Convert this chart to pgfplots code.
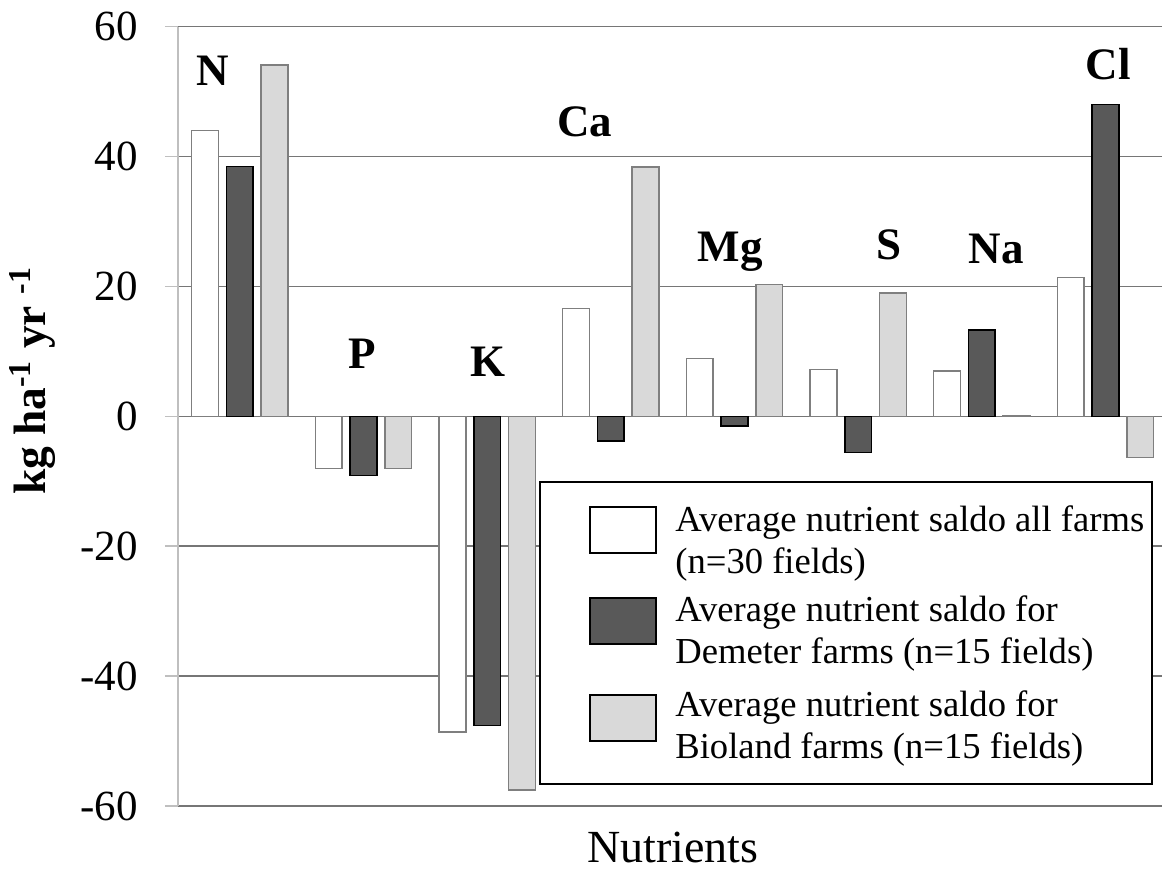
\documentclass[border=0pt]{standalone}
\usepackage{fontspec}
\setmainfont{Liberation Serif}
\usepackage{pgfplots}
\pgfplotsset{compat=1.18}
\definecolor{darkbar}{HTML}{595959}
\definecolor{lightbar}{HTML}{D9D9D9}
\definecolor{edgegray}{HTML}{7F7F7F}
\definecolor{gridgray}{HTML}{767676}
\definecolor{axisgray}{HTML}{BFBFBF}
\begin{document}
\begin{tikzpicture}
\begin{axis}[
  at={(89pt,37pt)}, anchor=south west,
  scale only axis, width=492pt, height=389.65pt,
  xmin=-0.5, xmax=7.457, ymin=-60, ymax=60,
  ytick={-60,-40,-20,0,20,40,60},
  yticklabels={-60,-40,-20,0,20,40,60},
  xtick=\empty,
  axis x line*=bottom,
  x axis line style={draw=none},
  axis y line*=left,
  y axis line style={axisgray, line width=0.75pt},
  ymajorgrids, grid style={gridgray, line width=0.75pt},
  major tick length=6.5pt, tick align=outside,
  ytick style={axisgray, line width=0.75pt},
  every y tick label/.append style={font=\fontsize{21.5}{24}\selectfont, anchor=east, inner sep=0pt, xshift=-13.5pt},
  ylabel={kg ha\textsuperscript{-1} yr \textsuperscript{-1}},
  ylabel style={font=\fontsize{22.7}{26}\selectfont\bfseries, at={(axis description cs:-0.1474,0.5454)}, anchor=center, inner sep=0pt},
  xlabel={Nutrients},
  xlabel style={font=\fontsize{23}{26}\selectfont, at={(axis description cs:0.503,-0.0731)}, anchor=base, inner sep=0pt},
  ybar, bar width=0.216,
]
\addplot[bar shift=0pt, fill=white, draw=edgegray, line width=0.75pt] coordinates {
  (-0.281,44.0) (0.719,-8.05) (1.719,-48.6) (2.719,16.6) (3.719,8.9) (4.719,7.2) (5.719,7.0) (6.719,21.4)};
\addplot[bar shift=0pt, fill=darkbar, draw=black, line width=0.75pt] coordinates {
  (0,38.5) (1,-9.1) (2,-47.6) (3,-3.8) (4,-1.5) (5,-5.6) (6,13.3) (7,48.0)};
\addplot[bar shift=0pt, fill=lightbar, draw=edgegray, line width=0.75pt] coordinates {
  (0.281,54.1) (1.281,-8.05) (2.281,-57.5) (3.281,38.4) (4.281,20.3) (5.281,19.0) (6.281,0.15) (7.281,-6.35)};
\begin{scope}[every node/.style={font=\fontsize{22.5}{26}\selectfont\bfseries, anchor=base, inner sep=0pt}]
\node at (axis cs:-0.219,51.0) {N};
\node at (axis cs:0.986,7.4) {P};
\node at (axis cs:2.009,6.2) {K};
\node at (axis cs:2.791,43.05) {Ca};
\node at (axis cs:3.964,23.8) {Mg};
\node at (axis cs:5.250,24.1) {S};
\node at (axis cs:6.115,23.6) {Na};
\node at (axis cs:7.021,51.8) {Cl};
\end{scope}
\end{axis}
\draw[black, line width=1.1pt, fill=white] (270pt,199.15pt) rectangle (576pt,47.85pt);
\draw[black, line width=1pt, fill=white] (295pt,186.5pt) rectangle (328pt,163.5pt);
\draw[black, line width=1pt, fill=darkbar] (295pt,141.15pt) rectangle (328pt,118pt);
\draw[black, line width=1pt, fill=lightbar] (295pt,92.5pt) rectangle (328pt,69.65pt);
\begin{scope}[every node/.style={font=\fontsize{18.3}{21}\selectfont, anchor=base west, inner sep=0pt}]
\node at (337.5pt,174.15pt) {Average nutrient saldo all farms};
\node at (337.5pt,153.5pt) {(n=30 fields)};
\node at (337.5pt,129.15pt) {Average nutrient saldo for};
\node at (337.5pt,108.35pt) {Demeter farms (n=15 fields)};
\node at (337.5pt,81.65pt) {Average nutrient saldo for};
\node at (337.5pt,60.85pt) {Bioland farms (n=15 fields)};
\end{scope}
\pgfresetboundingbox
\useasboundingbox (0,0) rectangle (581pt,440pt);
\end{tikzpicture}
\end{document}
